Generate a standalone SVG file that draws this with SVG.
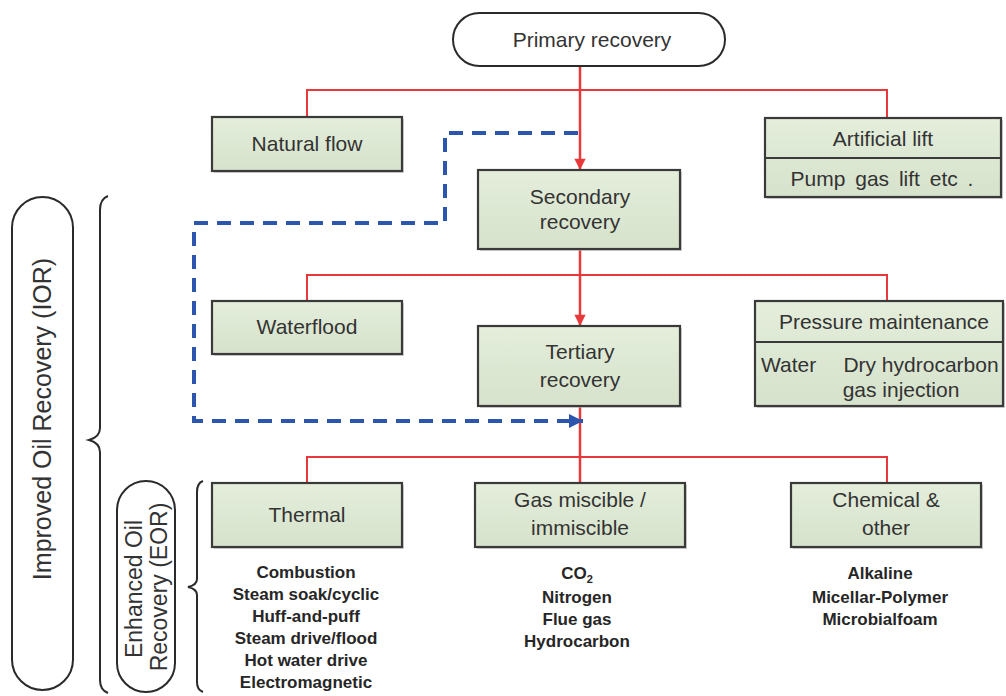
<svg xmlns="http://www.w3.org/2000/svg" width="1006" height="696" viewBox="0 0 1006 696">
<defs>
<linearGradient id="g" x1="0" y1="0" x2="0" y2="1">
<stop offset="0" stop-color="#e4eedb"/>
<stop offset="1" stop-color="#d6e2cc"/>
</linearGradient>
<marker id="ra" viewBox="0 0 10 10" refX="10" refY="5" markerWidth="6" markerHeight="4.5" orient="auto" markerUnits="strokeWidth">
<path d="M0,0 L10,5 L0,10 z" fill="#e8383a"/>
</marker>
<marker id="ba" viewBox="0 0 10 10" refX="10" refY="5" markerWidth="5" markerHeight="3.5" orient="auto" markerUnits="strokeWidth">
<path d="M0,0 L10,5 L0,10 z" fill="#2c55ad"/>
</marker>
</defs>
<style>
.box{fill:url(#g);stroke:#3a3a3a;stroke-width:2.2}
.sh{fill:#b5b5b5;opacity:0.6}
.t{font-family:"Liberation Sans",Arial,sans-serif;font-size:21px;fill:#333;text-anchor:middle}
.s{font-family:"Liberation Sans",Arial,sans-serif;font-size:17px;font-weight:bold;fill:#262626;text-anchor:middle}
.r{fill:none;stroke:#e8383a;stroke-width:2}
.pill{fill:#fff;stroke:#2a2a2a;stroke-width:2}
.br{fill:none;stroke:#2a2a2a;stroke-width:2}
</style>
<rect width="1006" height="696" fill="#fff"/>

<g id="connectors">
<path class="r" d="M307,117 V90 H887 V118"/>
<path class="r" d="M307,301 V275 H887 V301"/>
<path class="r" d="M307,483 V457 H887 V483"/>
<line x1="580" y1="406" x2="580" y2="483" class="r" style="stroke-width:2.5"/>
<line x1="580" y1="66" x2="580" y2="170" class="r" style="stroke-width:2.5" marker-end="url(#ra)"/>
<line x1="580" y1="249" x2="580" y2="326" class="r" style="stroke-width:2.5" marker-end="url(#ra)"/>
<path d="M578,133 H445 V223 H194 V421 H583" fill="none" stroke="#2c55ad" stroke-width="4" stroke-dasharray="14,9" marker-end="url(#ba)"/>
</g>

<g id="primary">
<rect x="453" y="13" width="272" height="53" rx="26.5" class="pill"/>
<text x="592" y="47" class="t">Primary recovery</text>
</g>

<g id="natural-flow">
<rect x="214" y="119" width="190" height="54" class="sh"/>
<rect x="212" y="117" width="190" height="54" class="box"/>
<text x="307" y="151" class="t">Natural flow</text>
</g>

<g id="artificial-lift">
<rect x="767" y="120" width="236" height="79" class="sh"/>
<rect x="765" y="118" width="236" height="79" class="box"/>
<line x1="765" y1="158" x2="1001" y2="158" stroke="#3a3a3a" stroke-width="2"/>
<text x="883" y="146" class="t">Artificial lift</text>
<text x="882" y="186" class="t" style="word-spacing:4px">Pump gas lift etc .</text>
</g>

<g id="secondary">
<rect x="480" y="172" width="202" height="79" class="sh"/>
<rect x="478" y="170" width="202" height="79" class="box"/>
<text x="580" y="204" class="t">Secondary</text>
<text x="580" y="229" class="t">recovery</text>
</g>

<g id="waterflood">
<rect x="214" y="303" width="190" height="53" class="sh"/>
<rect x="212" y="301" width="190" height="53" class="box"/>
<text x="307" y="334" class="t">Waterflood</text>
</g>

<g id="tertiary">
<rect x="480" y="328" width="202" height="80" class="sh"/>
<rect x="478" y="326" width="202" height="80" class="box"/>
<text x="580" y="359" class="t">Tertiary</text>
<text x="580" y="387" class="t">recovery</text>
</g>

<g id="pressure-maintenance">
<rect x="757" y="303" width="248" height="105" class="sh"/>
<rect x="755" y="301" width="248" height="105" class="box"/>
<line x1="755" y1="342" x2="1003" y2="342" stroke="#3a3a3a" stroke-width="2"/>
<text x="884" y="329" class="t">Pressure maintenance</text>
<text x="761" y="372" class="t" style="text-anchor:start">Water</text>
<text x="921" y="372" class="t">Dry hydrocarbon</text>
<text x="901" y="397" class="t">gas injection</text>
</g>

<g id="thermal">
<rect x="214" y="485" width="190" height="64" class="sh"/>
<rect x="212" y="483" width="190" height="64" class="box"/>
<text x="307" y="522" class="t">Thermal</text>
<text class="s"><tspan x="306" y="578">Combustion</tspan><tspan x="306" y="600">Steam soak/cyclic</tspan><tspan x="306" y="622">Huff-and-puff</tspan><tspan x="306" y="644">Steam drive/flood</tspan><tspan x="306" y="666">Hot water drive</tspan><tspan x="306" y="688">Electromagnetic</tspan></text>
</g>

<g id="gas">
<rect x="477" y="485" width="210" height="64" class="sh"/>
<rect x="475" y="483" width="210" height="64" class="box"/>
<text x="580" y="507" class="t">Gas miscible /</text>
<text x="580" y="535" class="t">immiscible</text>
<text class="s"><tspan x="577" y="579">CO<tspan font-size="11" dy="4">2</tspan></tspan><tspan x="577" y="603">Nitrogen</tspan><tspan x="577" y="625">Flue gas</tspan><tspan x="577" y="647">Hydrocarbon</tspan></text>
</g>

<g id="chemical">
<rect x="793" y="485" width="190" height="64" class="sh"/>
<rect x="791" y="483" width="190" height="64" class="box"/>
<text x="886" y="507" class="t">Chemical &amp;</text>
<text x="886" y="535" class="t">other</text>
<text class="s"><tspan x="880" y="579">Alkaline</tspan><tspan x="880" y="603">Micellar-Polymer</tspan><tspan x="880" y="625">Microbialfoam</tspan></text>
</g>

<g id="ior">
<rect x="12" y="197" width="61" height="493" rx="30.5" class="pill"/>
<text transform="translate(51,419) rotate(-90)" class="t" style="font-size:25px">Improved Oil Recovery (IOR)</text>
<path class="br" d="M108,196 Q100,199 100,210 L100,428 Q100,437 89,440 Q100,443 100,452 L100,680 Q100,690 108,693"/>
</g>

<g id="eor">
<rect x="117" y="481" width="58" height="211" rx="29" class="pill"/>
<text transform="translate(142,589) rotate(-90)" class="t" style="font-size:23px">Enhanced Oil</text>
<text transform="translate(167,587) rotate(-90)" class="t" style="font-size:23px">Recovery (EOR)</text>
<path class="br" d="M203,481 Q197,483 197,492 L197,579 Q197,585 188,587 Q197,589 197,595 L197,682 Q197,690 203,692"/>
</g>
</svg>
